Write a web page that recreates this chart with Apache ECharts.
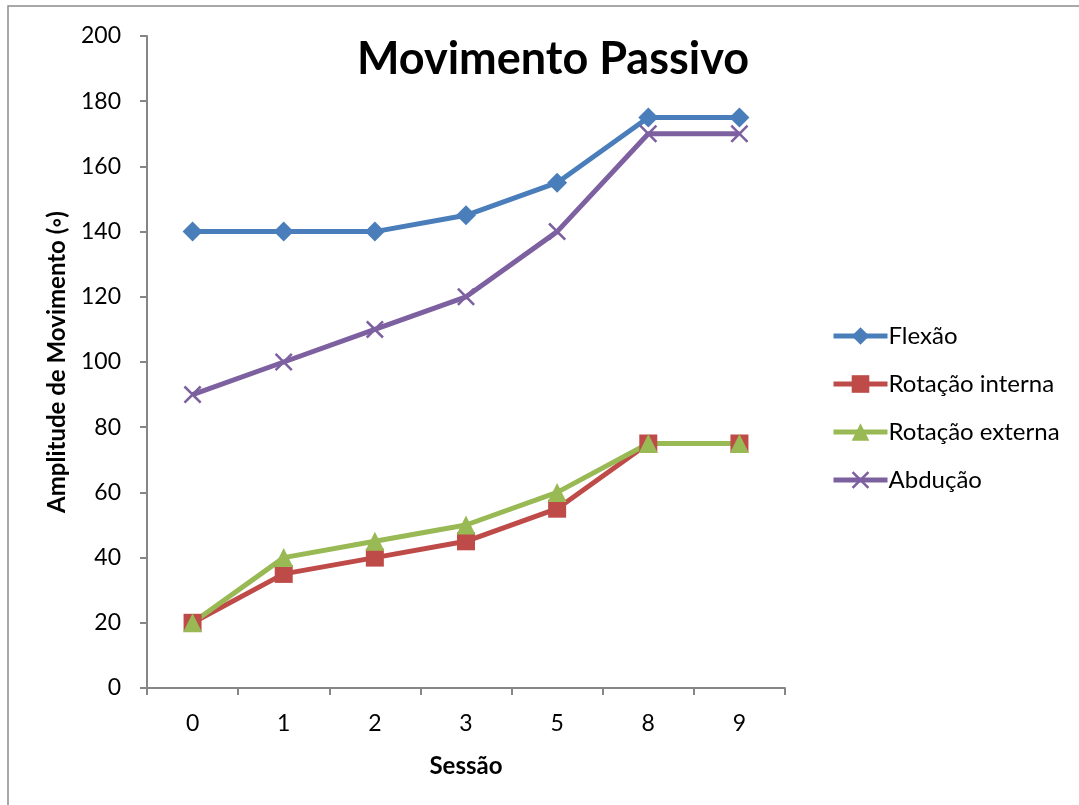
<!DOCTYPE html>
<html><head><meta charset="utf-8">
<script src="https://cdn.jsdelivr.net/npm/echarts@6/dist/echarts.min.js"></script>
<style>html,body{margin:0;padding:0;background:#fff}#c{width:1079px;height:805px}</style>
</head><body><div id="c"></div>
<script>
const categories = ['0','1','2','3','5','8','9'];
const flexao = [140,140,140,145,155,175,175];
const rotInterna = [20,35,40,45,55,75,75];
const rotExterna = [20,40,45,50,60,75,75];
const abducao = [90,100,110,120,140,170,170];
const seriesNames = ['Flexão','Rotação interna','Rotação externa','Abdução'];

const FONT = 'Lato, "Open Sans", sans-serif';
const crossPath = 'path://M0,1L1,0L5,4L9,0L10,1L6,5L10,9L9,10L5,6L1,10L0,9L4,5Z';
function mk(name, data, color, symbol, size){
  return {name, type:'line', data, symbol, symbolSize:size, showAllSymbol:true,
    lineStyle:{color, width:5}, itemStyle:{color}, emphasis:{disabled:true}};
}
const chart = echarts.init(document.getElementById('c'));
chart.setOption({
  animation:false,
  textStyle:{fontFamily:FONT},
  graphic:[{type:'rect', shape:{x:8, y:6, width:1200, height:1000}, style:{fill:'none', stroke:'#8c8c8c', lineWidth:1.5}, silent:true}],
  title:{text:'Movimento Passivo', left:548, top:32, textAlign:'center',
    textStyle:{fontSize:45, fontWeight:'bold', color:'#000', fontFamily:FONT}},
  legend:{orient:'vertical', left:826, top:319, itemWidth:54, itemHeight:22, itemGap:24,
    lineStyle:{width:5},
    textStyle:{fontSize:24, color:'#000', fontFamily:FONT, padding:[0,0,0,-4]}, data:seriesNames},
  grid:{left:147, right:294, top:36, bottom:117},
  xAxis:{type:'category', data:categories, boundaryGap:true,
    name:'Sessão', nameLocation:'middle', nameGap:66,
    nameTextStyle:{fontSize:24, fontWeight:'bold', color:'#000', fontFamily:FONT},
    axisLine:{lineStyle:{color:'#868686', width:2}},
    axisTick:{show:true, alignWithLabel:false, length:7, lineStyle:{color:'#868686', width:2}},
    axisLabel:{fontSize:23, color:'#000', margin:24, fontFamily:FONT}},
  yAxis:{type:'value', min:0, max:200, interval:20,
    name:'Amplitude de Movimento (◦)', nameLocation:'middle', nameGap:78, nameRotate:90,
    nameTextStyle:{fontSize:24, fontWeight:'bold', color:'#000', fontFamily:FONT},
    axisLine:{show:true, lineStyle:{color:'#868686', width:2}},
    axisTick:{show:true, length:7, lineStyle:{color:'#868686', width:2}},
    splitLine:{show:false},
    axisLabel:{fontSize:23, color:'#000', margin:26, fontFamily:FONT}},
  series:[
    mk('Flexão', flexao, '#4a7ebb', 'diamond', 20),
    mk('Rotação interna', rotInterna, '#be4b48', 'rect', 18),
    mk('Rotação externa', rotExterna, '#98b954', 'triangle', 19),
    mk('Abdução', abducao, '#7d60a0', crossPath, 18)
  ]
});
</script></body></html>
